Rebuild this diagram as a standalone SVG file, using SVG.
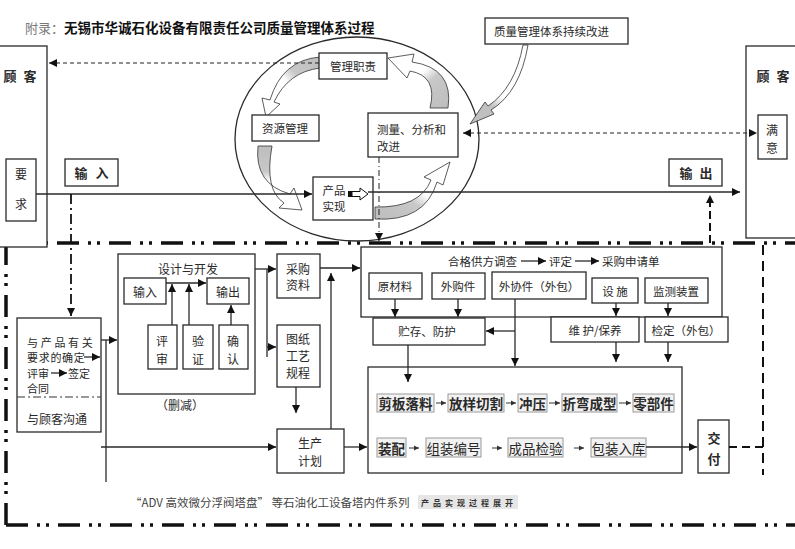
<svg xmlns="http://www.w3.org/2000/svg" width="795" height="549" viewBox="0 0 795 549">
<style>
.box{fill:#fff;stroke:#2a2a2a;stroke-width:1.3}
.ln{fill:none;stroke:#2a2a2a;stroke-width:1.3}
.t{font-family:"Noto Sans CJK SC","Liberation Sans",sans-serif;font-size:12px;fill:#2a2a2a;dominant-baseline:central}
.c{text-anchor:middle}
.b{font-weight:bold}
.gb{fill:#f2f2f2;stroke:#9a9a9a;stroke-width:1}
.bd{fill:none;stroke:#111;stroke-width:3.5;stroke-dasharray:22 9 3 6 3 9}
.ga{stroke:#333;stroke-width:0.8}
.s{font-size:11px}
</style>
<defs>
<marker id="ah" markerUnits="userSpaceOnUse" markerWidth="9" markerHeight="8" refX="8" refY="4" orient="auto-start-reverse"><path d="M0,0 L8,4 L0,8 z" fill="#111"/></marker>
<linearGradient id="gA" x1="1" y1="0" x2="0" y2="1"><stop offset="0" stop-color="#bdbdbd"/><stop offset="0.35" stop-color="#c8c8c8"/><stop offset="0.5" stop-color="#fff"/></linearGradient>
<linearGradient id="gB" x1="0" y1="0" x2="0" y2="1"><stop offset="0" stop-color="#bdbdbd"/><stop offset="0.4" stop-color="#c8c8c8"/><stop offset="0.55" stop-color="#fff"/></linearGradient>
<linearGradient id="gC" x1="0" y1="1" x2="1" y2="0"><stop offset="0" stop-color="#bdbdbd"/><stop offset="0.4" stop-color="#c8c8c8"/><stop offset="0.55" stop-color="#fff"/></linearGradient>
<linearGradient id="gD" x1="1" y1="1" x2="0" y2="0"><stop offset="0" stop-color="#bdbdbd"/><stop offset="0.4" stop-color="#c8c8c8"/><stop offset="0.55" stop-color="#fff"/></linearGradient>
<linearGradient id="gE" x1="1" y1="0" x2="0" y2="1"><stop offset="0" stop-color="#fff"/><stop offset="0.55" stop-color="#fff"/><stop offset="0.7" stop-color="#c0c0c0"/></linearGradient>
</defs>
<rect width="795" height="549" fill="#fff"/>

<g id="title">
<text class="t" x="25" y="27" style="font-size:13px;fill:#777">附录：</text>
<text class="t b" x="64" y="27" style="font-size:13.5px;fill:#111">无锡市华诚石化设备有限责任公司质量管理体系过程</text>
</g>

<g id="boundary">
<path class="bd" d="M5,243 H795"/>
<path class="bd" d="M6,243 V525"/>
<path class="bd" d="M6,525 H795"/>
<path d="M763,245 V475" fill="none" stroke="#111" stroke-width="2" stroke-dasharray="10 6"/>
</g>

<g id="customer-left">
<rect class="box" x="-2" y="46" width="49" height="201"/>
<text class="t c b" x="10" y="75" style="font-size:13px">顾</text>
<text class="t c b" x="30" y="75" style="font-size:13px">客</text>
</g>
<g id="requirement">
<rect class="box" x="6" y="159" width="30" height="62"/>
<text class="t c" x="21" y="173">要</text>
<text class="t c" x="21" y="203">求</text>
</g>
<g id="input">
<rect class="box" x="65" y="159" width="53" height="27"/>
<text class="t c b" x="81" y="172" style="font-size:13px">输</text>
<text class="t c b" x="102" y="172" style="font-size:13px">入</text>
</g>
<g id="output">
<rect class="box" x="669" y="159" width="53" height="27"/>
<text class="t c b" x="686" y="172" style="font-size:13px">输</text>
<text class="t c b" x="706" y="172" style="font-size:13px">出</text>
</g>
<g id="customer-right">
<rect class="box" x="746" y="46" width="55" height="192"/>
<text class="t c b" x="763" y="75" style="font-size:13px">顾</text>
<text class="t c b" x="783" y="75" style="font-size:13px">客</text>
</g>
<g id="satisfaction">
<rect class="box" x="758" y="115" width="29" height="44"/>
<text class="t c" x="772" y="129">满</text>
<text class="t c" x="772" y="147">意</text>
</g>
<g id="improve">
<rect class="box" x="485" y="18" width="143" height="26"/>
<text class="t" x="494" y="31" style="font-size:11.5px">质量管理体系持续改进</text>
</g>

<g id="cycle">
<ellipse cx="357" cy="139" rx="122" ry="102" fill="none" stroke="#2a2a2a" stroke-width="1.3"/>
<path class="ga" fill="url(#gA)" d="M320,57 Q282,60 270,100 L262,98 L266,117 L280,104 L274,102 Q288,72 320,68 Z"/>
<path class="ga" fill="url(#gB)" d="M258,146 Q254,184 290,194 L294,188 L302,210 L279,208 L284,203 Q264,190 272,146 Z"/>
<path class="ga" fill="url(#gC)" d="M375,219 Q425,222 437,182 L443,185 L450,162 L424,177 L431,180 Q420,208 375,207 Z"/>
<path class="ga" fill="url(#gD)" d="M430,108 Q438,76 410,71 L407,78 L388,58 L414,54 L412,62 Q454,68 448,108 Z"/>
<path class="ga" fill="url(#gE)" d="M523,45 Q515,88 488,106 L485,102 L470,124 L494,114 L491,110 Q520,92 528,45 Z"/>
</g>
<g id="mgmt">
<rect class="box" x="319" y="53" width="68" height="26"/>
<text class="t c" x="353" y="66" style="font-size:11.5px">管理职责</text>
</g>
<g id="resource">
<rect class="box" x="252" y="115" width="67" height="26"/>
<text class="t c" x="285" y="128" style="font-size:11.5px">资源管理</text>
</g>
<g id="measure">
<rect class="box" x="368" y="113" width="90" height="44"/>
<text class="t" x="377" y="129" style="font-size:11.5px">测量、分析和</text>
<text class="t" x="377" y="146" style="font-size:11.5px">改进</text>
</g>
<g id="realization">
<rect class="box" x="313" y="177" width="60" height="43"/>
<text class="t c" x="334" y="190" style="font-size:11.5px">产品</text>
<text class="t c" x="334" y="206" style="font-size:11.5px">实现</text>
<rect x="348" y="191" width="4" height="6" fill="#111"/>
<polygon points="352,191.5 360,191.5 360,188 368,194 360,200 360,196.5 352,196.5" fill="#fff" stroke="#111" stroke-width="1"/>
</g>

<g id="req-review">
<rect class="box" x="17" y="318" width="84" height="114"/>
<path d="M17,397 H101" stroke="#333" stroke-width="1" stroke-dasharray="8 3 2 3"/>
<text class="t s" x="27" y="342" style="letter-spacing:2.7px">与产品有关</text>
<text class="t s" x="27" y="357" style="letter-spacing:0.7px">要求的确定</text>
<text class="t s" x="27" y="373">评审</text>
<text class="t s" x="68" y="373">签定</text>
<text class="t s" x="27" y="388">合同</text>
<text class="t" x="27" y="418">与顾客沟通</text>
</g>
<g id="design">
<rect class="box" x="118" y="254" width="137" height="140"/>
<text class="t c" x="188" y="268">设计与开发</text>
<text class="t c" x="180" y="404">（删减）</text>
<rect class="box" x="124" y="278" width="42" height="26"/>
<text class="t c" x="145" y="291">输入</text>
<rect class="box" x="207" y="278" width="42" height="26"/>
<text class="t c" x="228" y="291">输出</text>
<rect class="box" x="148" y="325" width="29" height="44"/>
<text class="t c" x="162" y="340">评</text><text class="t c" x="162" y="358">审</text>
<rect class="box" x="183" y="325" width="30" height="44"/>
<text class="t c" x="198" y="340">验</text><text class="t c" x="198" y="358">证</text>
<rect class="box" x="219" y="325" width="29" height="44"/>
<text class="t c" x="233" y="340">确</text><text class="t c" x="233" y="358">认</text>
</g>
<g id="purchase-doc">
<rect class="box" x="277" y="254" width="43" height="44"/>
<text class="t c" x="298" y="268">采购</text>
<text class="t c" x="298" y="284">资料</text>
</g>
<g id="drawings">
<rect class="box" x="277" y="325" width="43" height="62"/>
<text class="t c" x="298" y="338">图纸</text>
<text class="t c" x="298" y="355">工艺</text>
<text class="t c" x="298" y="372">规程</text>
</g>
<g id="plan">
<rect class="box" x="277" y="429" width="67" height="44"/>
<text class="t c" x="310" y="442">生产</text>
<text class="t c" x="310" y="460">计划</text>
</g>
<g id="purchasing">
<rect class="box" x="361" y="247" width="361" height="70"/>
<text class="t" x="448" y="261" style="font-size:11.5px">合格供方调查</text>
<text class="t" x="549" y="261" style="font-size:11.5px">评定</text>
<text class="t" x="602" y="261" style="font-size:11.5px">采购申请单</text>
<rect class="box" x="369" y="273" width="53" height="26"/>
<text class="t c" x="395" y="286" style="font-size:11.5px">原材料</text>
<rect class="box" x="432" y="273" width="53" height="26"/>
<text class="t c" x="458" y="286" style="font-size:11.5px">外购件</text>
<rect class="box" x="492" y="272" width="94" height="27"/>
<text class="t c" x="539" y="286" style="font-size:11.5px">外协件（外包）</text>
<rect class="box" x="592" y="278" width="46" height="25"/>
<text class="t c" x="615" y="291" style="font-size:11.5px">设 施</text>
<rect class="box" x="645" y="278" width="63" height="25"/>
<text class="t c" x="676" y="291" style="font-size:11.5px">监测装置</text>
</g>
<g id="storage">
<rect class="box" x="373" y="318" width="112" height="27"/>
<text class="t c" x="427" y="331" style="font-size:11.5px">贮存、防护</text>
</g>
<g id="maintenance">
<rect class="box" x="551" y="317" width="88" height="25"/>
<text class="t c" x="595" y="330" style="font-size:11.5px">维 护/保养</text>
</g>
<g id="calibration">
<rect class="box" x="645" y="317" width="83" height="25"/>
<text class="t c" x="686" y="330" style="font-size:11.5px">检定（外包）</text>
</g>
<g id="production">
<rect class="box" x="368" y="367" width="314" height="106"/>
<rect class="gb" x="377" y="394" width="57" height="18"/><text class="t c b" x="405.5" y="403" style="font-size:13.5px">剪板落料</text>
<rect class="gb" x="448" y="394" width="56" height="18"/><text class="t c b" x="476" y="403" style="font-size:13.5px">放样切割</text>
<rect class="gb" x="518" y="394" width="29" height="18"/><text class="t c b" x="532.5" y="403" style="font-size:13.5px">冲压</text>
<rect class="gb" x="562" y="394" width="55" height="18"/><text class="t c b" x="589.5" y="403" style="font-size:13.5px">折弯成型</text>
<rect class="gb" x="633" y="394" width="41" height="18"/><text class="t c b" x="653.5" y="403" style="font-size:13.5px">零部件</text>
<rect class="gb" x="377" y="438" width="29" height="19"/><text class="t c b" x="391.5" y="447.5" style="font-size:13.5px">装配</text>
<rect class="gb" x="426" y="438" width="55" height="19"/><text class="t c" x="453.5" y="447.5" style="font-size:13.5px">组装编号</text>
<rect class="gb" x="508" y="438" width="55" height="19"/><text class="t c" x="535.5" y="447.5" style="font-size:13.5px">成品检验</text>
<rect class="gb" x="591" y="438" width="55" height="19"/><text class="t c" x="618.5" y="447.5" style="font-size:13.5px">包装入库</text>
</g>
<g id="delivery">
<rect class="box" x="698" y="420" width="31" height="53"/>
<text class="t c b" x="714" y="437" style="font-size:13px">交</text>
<text class="t c b" x="714" y="458" style="font-size:13px">付</text>
</g>
<g id="caption">
<text class="t" x="130" y="502" style="font-size:11.5px;fill:#444">“ADV 高效微分浮阀塔盘” 等石油化工设备塔内件系列</text>
<rect x="418" y="495" width="100" height="14" fill="#e6e6e6"/>
<text class="t b" x="421" y="502" style="font-size:8px;letter-spacing:4px;fill:#333">产品实现过程展开</text>
</g>

<g id="connectors">
<path class="ln" d="M36,194 H312" marker-end="url(#ah)"/>
<path class="ln" d="M368,192 H740" marker-end="url(#ah)"/>
<path d="M319,63 H49" fill="none" stroke="#222" stroke-width="1.2" stroke-dasharray="4 3" marker-end="url(#ah)"/>
<path d="M463,133 H757" fill="none" stroke="#222" stroke-width="1.2" stroke-dasharray="4 3" marker-start="url(#ah)" marker-end="url(#ah)"/>
<path d="M379,157 V241" fill="none" stroke="#222" stroke-width="1" stroke-dasharray="6 3 1 3" marker-end="url(#ah)"/>
<path d="M710,243 V195" fill="none" stroke="#111" stroke-width="2" stroke-dasharray="8 4" marker-end="url(#ah)"/>
<path d="M71,194 V316" fill="none" stroke="#111" stroke-width="1.8" stroke-dasharray="10 4 2 4" marker-end="url(#ah)"/>
<path class="ln" d="M84,357 H100" marker-end="url(#ah)"/>
<path class="ln" d="M51,373 H67" marker-end="url(#ah)"/>
<path class="ln" d="M106,340 V482"/>
<path class="ln" d="M101,340 H117" marker-end="url(#ah)"/>
<path class="ln" d="M101,447 H276" marker-end="url(#ah)"/>
<path class="ln" d="M166,283 H206" marker-end="url(#ah)"/>
<path class="ln" d="M172,325 V284" marker-end="url(#ah)"/>
<path class="ln" d="M189,325 V284" marker-end="url(#ah)"/>
<path class="ln" d="M231,325 V305" marker-end="url(#ah)"/>
<path class="ln" d="M255,269 H276" marker-end="url(#ah)"/>
<path class="ln" d="M267,269 V357"/>
<path class="ln" d="M267,347 H276" marker-end="url(#ah)"/>
<path class="ln" d="M296,387 V413" marker-end="url(#ah)"/>
<path class="ln" d="M331,429 V273" marker-end="url(#ah)"/>
<path class="ln" d="M320,268 H360" marker-end="url(#ah)"/>
<path class="ln" d="M344,447 H367" marker-end="url(#ah)"/>
<path class="ln" d="M521,261 H546" marker-end="url(#ah)"/>
<path class="ln" d="M575,261 H599" marker-end="url(#ah)"/>
<path class="ln" d="M395,299 V317" marker-end="url(#ah)"/>
<path class="ln" d="M458,299 V317" marker-end="url(#ah)"/>
<path class="ln" d="M515,299 V366" marker-end="url(#ah)"/>
<path class="ln" d="M515,331 H486" marker-end="url(#ah)"/>
<path class="ln" d="M616,303 V316" marker-end="url(#ah)"/>
<path class="ln" d="M668,303 V316" marker-end="url(#ah)"/>
<path class="ln" d="M616,342 V362" marker-end="url(#ah)"/>
<path class="ln" d="M668,342 V362" marker-end="url(#ah)"/>
<path class="ln" d="M408,345 V382" marker-end="url(#ah)"/>
<path d="M436,403 H446 M506,403 H516 M549,403 H560 M619,403 H631 M409,448 H419 M492,448 H502 M574,448 H584" fill="none" stroke="#333" stroke-width="1"/>
<path d="M441,400.5 L446,403 L441,405.5 z M511,400.5 L516,403 L511,405.5 z M555,400.5 L560,403 L555,405.5 z M626,400.5 L631,403 L626,405.5 z M414,445.5 L419,448 L414,450.5 z M497,445.5 L502,448 L497,450.5 z M579,445.5 L584,448 L579,450.5 z" fill="#333"/>
<path class="ln" d="M646,447 H697" marker-end="url(#ah)"/>
<path d="M729,447 H763" fill="none" stroke="#111" stroke-width="2" stroke-dasharray="8 5"/>
</g>
</svg>
